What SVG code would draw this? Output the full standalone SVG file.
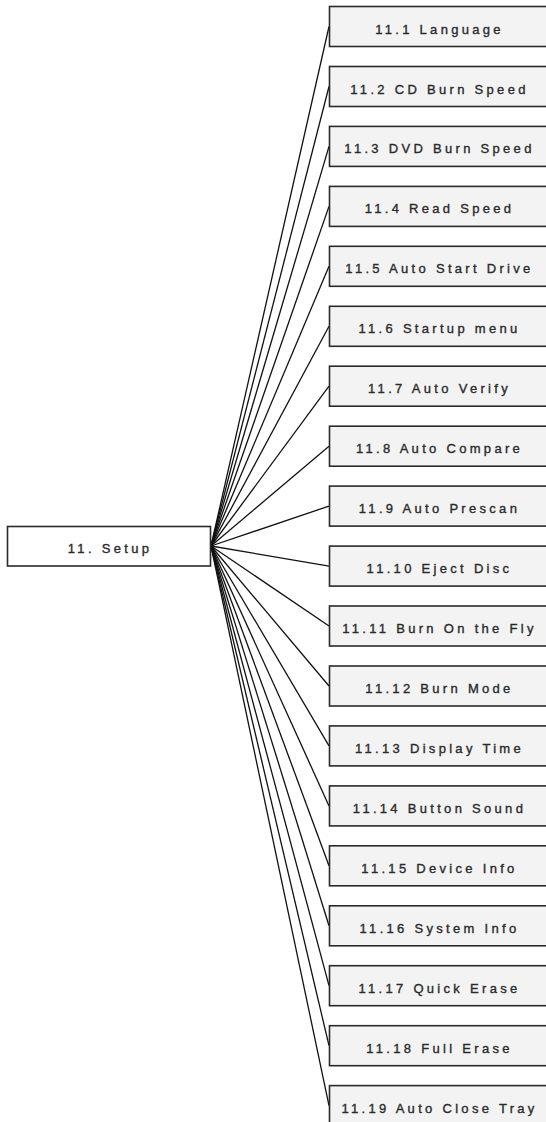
<svg xmlns="http://www.w3.org/2000/svg" width="546" height="1122" viewBox="0 0 546 1122">
<style>
.bg{fill:#ffffff}
.box{fill:#f3f3f3;stroke:#2a2a2a;stroke-width:1.6}
.root{fill:#ffffff;stroke:#2a2a2a;stroke-width:1.6}
.lbl{font-family:"Liberation Sans",Arial,sans-serif;font-size:13px;letter-spacing:3.3px;fill:#2a2a2a;stroke:#2a2a2a;stroke-width:0.35;text-anchor:middle}
.conn line{stroke:#111;stroke-width:1.3}
</style>
<rect class="bg" x="0" y="0" width="546" height="1122"/>
<g id="connectors" class="conn">
<line x1="211" y1="546" x2="329" y2="26.5"/>
<line x1="211" y1="546" x2="329" y2="86.5"/>
<line x1="211" y1="546" x2="329" y2="146.4"/>
<line x1="211" y1="546" x2="329" y2="206.4"/>
<line x1="211" y1="546" x2="329" y2="266.3"/>
<line x1="211" y1="546" x2="329" y2="326.3"/>
<line x1="211" y1="546" x2="329" y2="386.2"/>
<line x1="211" y1="546" x2="329" y2="446.2"/>
<line x1="211" y1="546" x2="329" y2="506.1"/>
<line x1="211" y1="546" x2="329" y2="566.1"/>
<line x1="211" y1="546" x2="329" y2="626"/>
<line x1="211" y1="546" x2="329" y2="686"/>
<line x1="211" y1="546" x2="329" y2="745.9"/>
<line x1="211" y1="546" x2="329" y2="805.9"/>
<line x1="211" y1="546" x2="329" y2="865.8"/>
<line x1="211" y1="546" x2="329" y2="925.8"/>
<line x1="211" y1="546" x2="329" y2="985.7"/>
<line x1="211" y1="546" x2="329" y2="1045.7"/>
<line x1="211" y1="546" x2="329" y2="1105.6"/>
</g>
<g id="n11">
<rect class="root" x="7.5" y="526.5" width="203" height="39.5"/>
<text class="lbl" x="110" y="553">11. Setup</text>
</g>
<g id="n11_1"><rect class="box" x="329.5" y="6.5" width="220" height="40"/><text class="lbl" x="439.5" y="33.5">11.1 Language</text></g>
<g id="n11_2"><rect class="box" x="329.5" y="66.5" width="220" height="40"/><text class="lbl" x="439.5" y="93.5">11.2 CD Burn Speed</text></g>
<g id="n11_3"><rect class="box" x="329.5" y="126.4" width="220" height="40"/><text class="lbl" x="439.5" y="153.4">11.3 DVD Burn Speed</text></g>
<g id="n11_4"><rect class="box" x="329.5" y="186.4" width="220" height="40"/><text class="lbl" x="439.5" y="213.4">11.4 Read Speed</text></g>
<g id="n11_5"><rect class="box" x="329.5" y="246.3" width="220" height="40"/><text class="lbl" x="439.5" y="273.3">11.5 Auto Start Drive</text></g>
<g id="n11_6"><rect class="box" x="329.5" y="306.3" width="220" height="40"/><text class="lbl" x="439.5" y="333.3">11.6 Startup menu</text></g>
<g id="n11_7"><rect class="box" x="329.5" y="366.2" width="220" height="40"/><text class="lbl" x="439.5" y="393.2">11.7 Auto Verify</text></g>
<g id="n11_8"><rect class="box" x="329.5" y="426.2" width="220" height="40"/><text class="lbl" x="439.5" y="453.2">11.8 Auto Compare</text></g>
<g id="n11_9"><rect class="box" x="329.5" y="486.1" width="220" height="40"/><text class="lbl" x="439.5" y="513.1">11.9 Auto Prescan</text></g>
<g id="n11_10"><rect class="box" x="329.5" y="546.1" width="220" height="40"/><text class="lbl" x="439.5" y="573.1">11.10 Eject Disc</text></g>
<g id="n11_11"><rect class="box" x="329.5" y="606" width="220" height="40"/><text class="lbl" x="439.5" y="633">11.11 Burn On the Fly</text></g>
<g id="n11_12"><rect class="box" x="329.5" y="666" width="220" height="40"/><text class="lbl" x="439.5" y="693">11.12 Burn Mode</text></g>
<g id="n11_13"><rect class="box" x="329.5" y="725.9" width="220" height="40"/><text class="lbl" x="439.5" y="752.9">11.13 Display Time</text></g>
<g id="n11_14"><rect class="box" x="329.5" y="785.9" width="220" height="40"/><text class="lbl" x="439.5" y="812.9">11.14 Button Sound</text></g>
<g id="n11_15"><rect class="box" x="329.5" y="845.8" width="220" height="40"/><text class="lbl" x="439.5" y="872.8">11.15 Device Info</text></g>
<g id="n11_16"><rect class="box" x="329.5" y="905.8" width="220" height="40"/><text class="lbl" x="439.5" y="932.8">11.16 System Info</text></g>
<g id="n11_17"><rect class="box" x="329.5" y="965.7" width="220" height="40"/><text class="lbl" x="439.5" y="992.7">11.17 Quick Erase</text></g>
<g id="n11_18"><rect class="box" x="329.5" y="1025.7" width="220" height="40"/><text class="lbl" x="439.5" y="1052.7">11.18 Full Erase</text></g>
<g id="n11_19"><rect class="box" x="329.5" y="1085.6" width="220" height="40"/><text class="lbl" x="439.5" y="1112.6">11.19 Auto Close Tray</text></g>
</svg>
